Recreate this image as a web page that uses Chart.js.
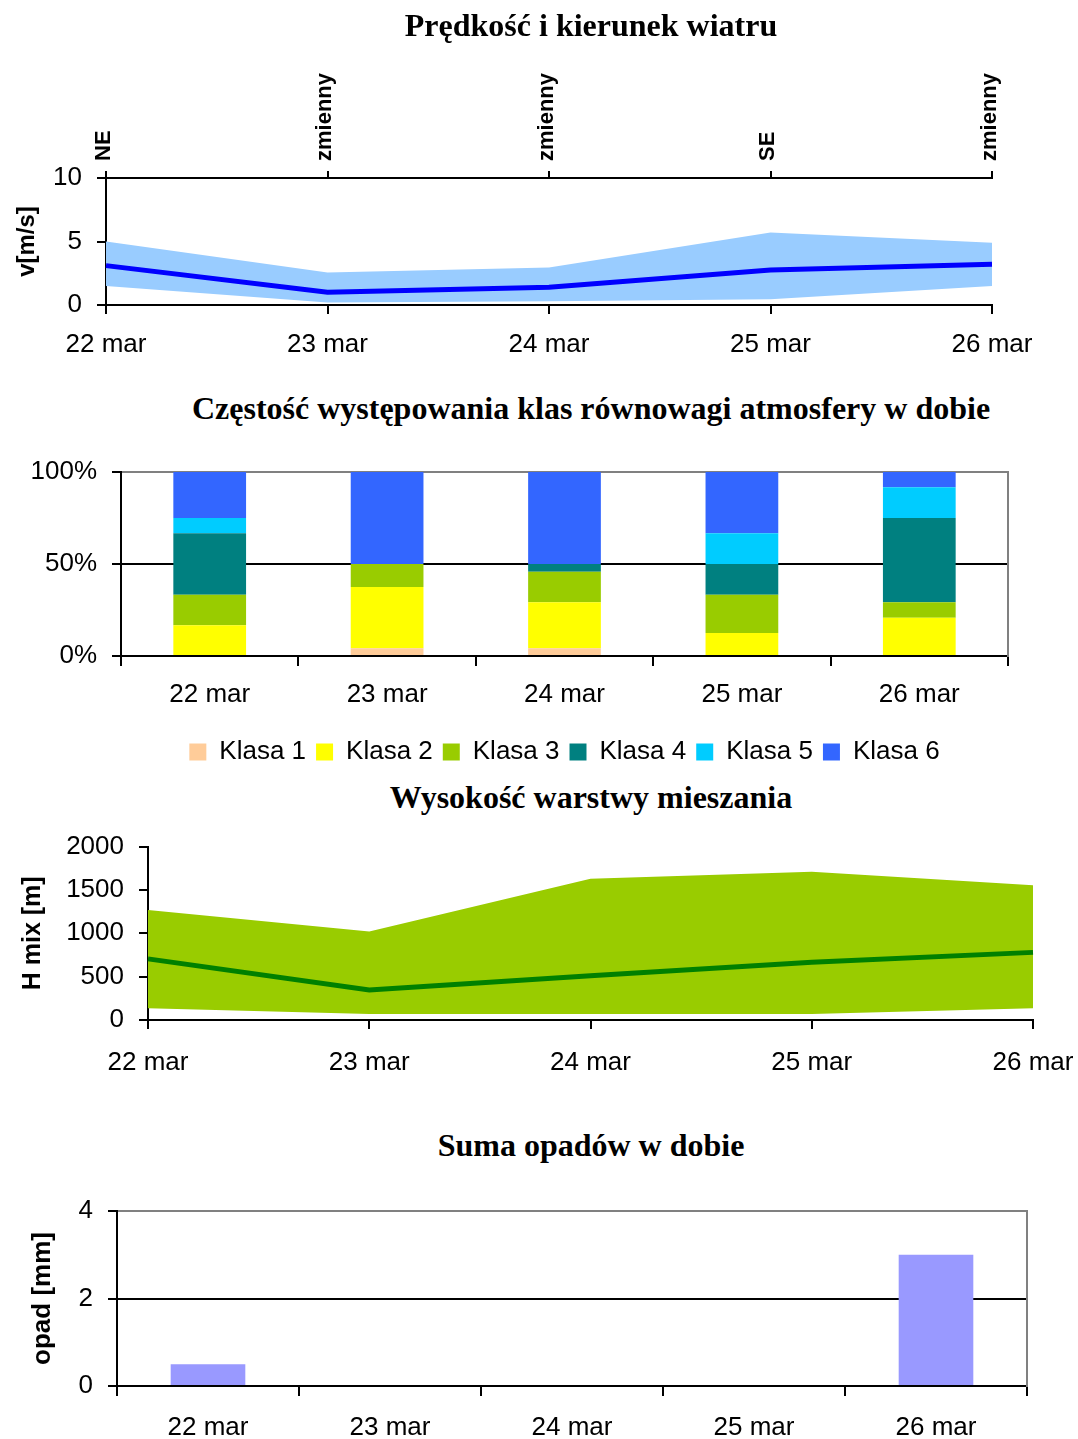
<!DOCTYPE html>
<html><head><meta charset="utf-8">
<script src="https://cdn.jsdelivr.net/npm/chart.js@4.4.0/dist/chart.umd.min.js"></script>
<style>
body{margin:0;background:#fff;width:1078px;height:1439px;position:relative;overflow:hidden}
.box{position:absolute;left:0;width:1078px}
.title{position:absolute;left:0;width:1182px;text-align:center;font:bold 32px 'Liberation Serif','Times New Roman',serif;line-height:36px;color:#000;z-index:2;white-space:nowrap}
</style></head><body>
<div class="title" style="top:7px">Prędkość i kierunek wiatru</div>
<div class="box" style="top:40px;height:330px"><canvas id="c1"></canvas></div>
<div class="title" style="top:390px">Częstość występowania klas równowagi atmosfery w dobie</div>
<div class="box" style="top:440px;height:335px"><canvas id="c2"></canvas></div>
<div class="title" style="top:779px">Wysokość warstwy mieszania</div>
<div class="box" style="top:816px;height:269px;width:1130px"><canvas id="c3"></canvas></div>
<div class="title" style="top:1127px">Suma opadów w dobie</div>
<div class="box" style="top:1180px;height:259px"><canvas id="c4"></canvas></div>
<script>
// ---- data ----
const categories = ['22 mar', '23 mar', '24 mar', '25 mar', '26 mar'];
const windDirections = ['NE', 'zmienny', 'zmienny', 'SE', 'zmienny'];
const windMean = [3.1, 1.0, 1.4, 2.75, 3.2];
const windMax = [5.0, 2.55, 2.95, 5.7, 4.9];
const windMin = [1.5, 0.2, 0.3, 0.45, 1.5];

const classNames = ['Klasa 1', 'Klasa 2', 'Klasa 3', 'Klasa 4', 'Klasa 5', 'Klasa 6'];
const klasa1 = [0, 4.17, 4.17, 0, 0];
const klasa2 = [16.67, 33.33, 25.0, 12.5, 20.83];
const klasa3 = [16.67, 12.5, 16.67, 20.83, 8.33];
const klasa4 = [33.33, 0, 4.16, 16.67, 45.84];
const klasa5 = [8.33, 0, 0, 16.67, 16.67];
const klasa6 = [25.0, 50.0, 50.0, 33.33, 8.33];
const percentTicks = [0, 50, 100];

const hmixMean = [705, 345, 510, 665, 780];
const hmixMax = [1270, 1020, 1630, 1710, 1555];
const hmixMin = [135, 70, 70, 70, 135];

const precip = [0.5, 0, 0, 0, 3.0];

// ---- styles ----
Chart.defaults.color = '#000';
Chart.defaults.font.family = "'Liberation Sans', Arial, sans-serif";
const classColors = ['#FFCC99', '#FFFF00', '#99CC00', '#008080', '#00CCFF', '#3366FF'];
const BLK = '#000', GRY = '#808080';
const tickFont = {size: 26};

function base(padding) {
  return {
    responsive: true, maintainAspectRatio: false, animation: false, devicePixelRatio: 1,
    layout: {padding},
    plugins: {legend: {display: false}, tooltip: {enabled: false}},
  };
}
function xAxis(h, tickLen, pad, offsetGrid) {
  return {
    type: 'category', position: 'bottom',
    offset: offsetGrid,
    grid: {drawOnChartArea: false, color: BLK, lineWidth: 2, tickLength: tickLen, offset: offsetGrid},
    border: {color: BLK, width: 2},
    ticks: {font: tickFont, padding: pad, maxRotation: 0, autoSkip: false, color: BLK},
    afterFit: s => { s.height = h; }
  };
}
function yAxis(w, min, max, step, title, titleSize, titlePad, gridOn, cb) {
  return {
    min, max,
    ticks: {stepSize: step, font: tickFont, padding: 15, color: BLK, callback: cb},
    grid: gridOn ? {drawOnChartArea: true, color: c => (c.tick && c.tick.value === max) ? GRY : BLK, tickColor: BLK, lineWidth: 2, tickLength: 9}
                 : {drawOnChartArea: false, color: BLK, lineWidth: 2, tickLength: 9},
    border: {color: BLK, width: 2},
    title: title ? {display: true, text: title, font: {size: titleSize, weight: 'bold'}, color: BLK, padding: {top: titlePad, bottom: 0}} : {display: false},
    afterFit: s => { s.width = w; }
  };
}
const rightBorder = {
  position: 'right', display: true,
  grid: {display: false}, ticks: {display: false},
  border: {color: GRY, width: 2},
  afterFit: s => { s.width = 0; }
};

// ---- chart 1: wind ----
const o1 = base({left: 0, right: 86, top: 0, bottom: 0});
o1.scales = {
  x: xAxis(65, 9, 15, false),
  x2: {
    type: 'category', position: 'top', labels: windDirections, offset: false,
    grid: {drawOnChartArea: false, color: BLK, lineWidth: 2, tickLength: 7},
    border: {color: BLK, width: 2},
    ticks: {font: {size: 22, weight: 'bold'}, minRotation: 90, maxRotation: 90, padding: 10, labelOffset: 24, autoSkip: false, color: BLK},
    afterFit: s => { s.height = 138; }
  },
  y: yAxis(106, 0, 10, 5, 'v[m/s]', 24, 13, false)
};
new Chart(document.getElementById('c1'), {
  type: 'line',
  data: {labels: categories, datasets: [
    {label: 'średnia', data: windMean, borderColor: '#0000FF', borderWidth: 5, pointRadius: 0, fill: false, tension: 0, xAxisID: 'x'},
    {label: 'max', data: windMax, borderWidth: 0, borderColor: 'rgba(0,0,0,0)', backgroundColor: '#99CCFF', pointRadius: 0, fill: '+1', tension: 0, xAxisID: 'x'},
    {label: 'min', data: windMin, borderWidth: 0, borderColor: 'rgba(0,0,0,0)', pointRadius: 0, fill: false, tension: 0, xAxisID: 'x'}
  ]},
  options: o1
});

// ---- chart 2: stability classes ----
const o2 = base({left: 0, right: 70, top: 32, bottom: 0});
o2.plugins.legend = {
  display: true, position: 'bottom', fullSize: false,
  labels: {boxWidth: 17, boxHeight: 17, font: {size: 26}, padding: 10, color: BLK}
};
const x2ax = xAxis(73, 10, 13, true); x2ax.stacked = true;
const y2ax = yAxis(121, 0, 100, 50, null, 0, 0, true, v => v + '%'); y2ax.stacked = true;
y2ax.afterBuildTicks = s => { s.ticks = percentTicks.map(v => ({value: v})); };
o2.scales = {x: x2ax, y: y2ax, yR: rightBorder};
const classData = [klasa1, klasa2, klasa3, klasa4, klasa5, klasa6];
new Chart(document.getElementById('c2'), {
  type: 'bar',
  data: {labels: categories, datasets: classData.map((d, i) => ({
    label: classNames[i], data: d, backgroundColor: classColors[i], borderWidth: 0,
    barPercentage: 0.41, categoryPercentage: 1
  }))},
  options: o2
});

// ---- chart 3: mixing height ----
const o3 = base({left: 0, right: 97, top: 20, bottom: 0});
o3.scales = {
  x: xAxis(65, 9, 18, false),
  y: yAxis(148, 0, 2000, 500, 'H mix [m]', 25, 18, false)
};
new Chart(document.getElementById('c3'), {
  type: 'line',
  data: {labels: categories, datasets: [
    {label: 'średnia', data: hmixMean, borderColor: '#008000', borderWidth: 5, pointRadius: 0, fill: false, tension: 0},
    {label: 'max', data: hmixMax, borderWidth: 0, borderColor: 'rgba(0,0,0,0)', backgroundColor: '#99CC00', pointRadius: 0, fill: '+1', tension: 0},
    {label: 'min', data: hmixMin, borderWidth: 0, borderColor: 'rgba(0,0,0,0)', pointRadius: 0, fill: false, tension: 0}
  ]},
  options: o3
});

// ---- chart 4: precipitation ----
const o4 = base({left: 0, right: 51, top: 31, bottom: 0});
o4.scales = {
  x: xAxis(53, 10, 16, true),
  y: yAxis(117, 0, 4, 2, 'opad [mm]', 26, 27, true),
  yR: rightBorder
};
new Chart(document.getElementById('c4'), {
  type: 'bar',
  data: {labels: categories, datasets: [
    {label: 'opad', data: precip, backgroundColor: '#9999FF', borderWidth: 0, barPercentage: 0.41, categoryPercentage: 1}
  ]},
  options: o4
});
</script>
</body></html>
